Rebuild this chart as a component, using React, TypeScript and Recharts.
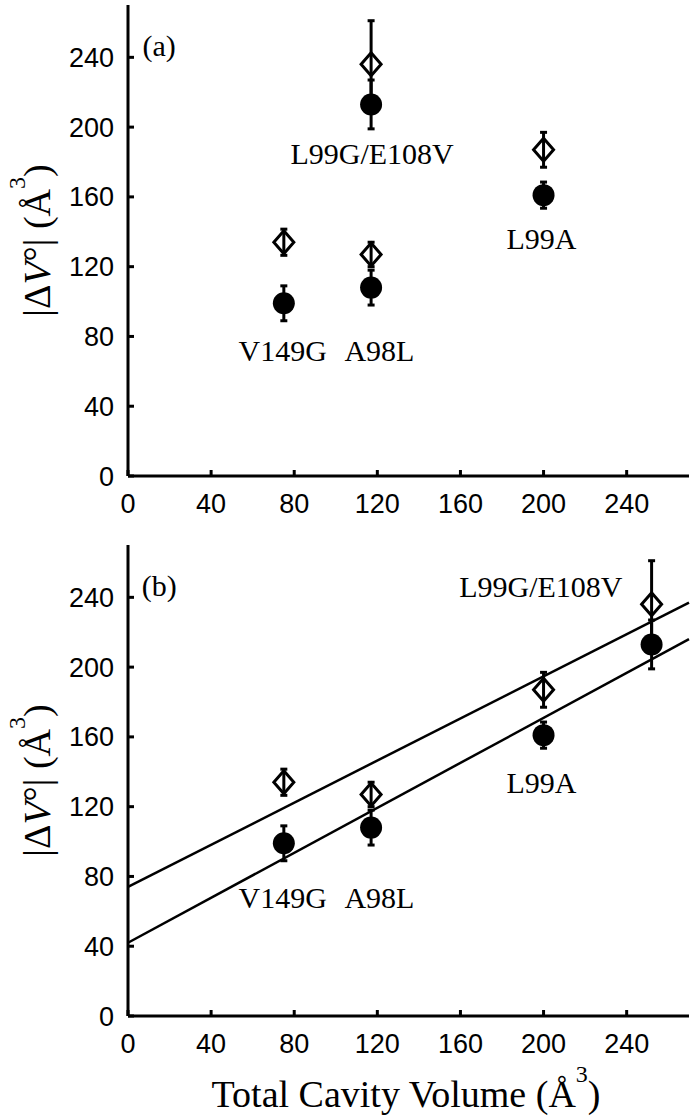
import React from "react";
import { ScatterChart, Scatter, XAxis, YAxis, ErrorBar } from "recharts";

// mutants, in the order used by every array below
const mutants = ["V149G", "A98L", "L99A", "L99G/E108V"];

// x: cavity volume (A^3); panel (a) uses the largest cavity, panel (b) the total
const volumeA = [75, 117, 200, 117];
const volumeB = [75, 117, 200, 252];

// |dV| values, filled circles and open diamonds, with their errors
const closedDV = [99, 108, 161, 213];
const closedErr = [10, 10, 7.5, 14];
const openDV = [134, 127, 187, 236];
const openErr = [7.5, 7, 10, 25];

// linear fits in panel (b), end points
const fitOpenX = [0, 270];
const fitOpenY = [74, 237];
const fitClosedX = [0, 270];
const fitClosedY = [42, 216];

// where the mutant names sit (data coords)
const noteAX = [74.5, 121, 199, 117.5];
const noteAY = [72, 72, 136, 185];
const noteBX = [74.5, 121, 199, 198.7];
const noteBY = [68, 68, 134, 246];

const xTicks = [0, 40, 80, 120, 160, 200, 240];
const yTicks = [0, 40, 80, 120, 160, 200, 240];

const SERIF = "'Liberation Serif', 'Times New Roman', serif";
const SANS = "'Liberation Sans', Arial, sans-serif";
const axisStyle = { stroke: "#000", strokeWidth: 3 };

const Dot = (props: any) => {
  const { cx, cy } = props;
  if (cx == null || cy == null) return <g />;
  return <circle cx={cx} cy={cy} r={11} fill="#000" />;
};

const Diamond = (props: any) => {
  const { cx, cy } = props;
  if (cx == null || cy == null) return <g />;
  return (
    <path
      d={`M${cx},${cy - 11.5} L${cx + 10},${cy} L${cx},${cy + 11.5} L${cx - 10},${cy} Z`}
      fill="none"
      stroke="#000"
      strokeWidth={3}
    />
  );
};

const Note = (props: any) => {
  const { cx, cy } = props;
  const text = props.payload?.text ?? props.text;
  if (cx == null || cy == null) return <g />;
  return (
    <text
      x={cx}
      y={cy}
      textAnchor="middle"
      dominantBaseline="central"
      fontFamily={SERIF}
      fontSize={30}
      fill="#000"
    >
      {text}
    </text>
  );
};

const Nothing = () => <g />;

const YTitle = () => (
  <text
    transform="translate(50,240.5) rotate(-90)"
    textAnchor="middle"
    fontFamily={SERIF}
    fontSize={38}
    fill="#000"
  >
    |Δ<tspan fontStyle="italic">V</tspan>°| (Å
    <tspan dy={-25} fontSize={24}>3</tspan>
    <tspan dy={25}>)</tspan>
  </text>
);

const XTitle = () => (
  <text x={406} y={567} textAnchor="middle" fontFamily={SERIF} fontSize={38} fill="#000">
    Total Cavity Volume (Å
    <tspan dy={-25} fontSize={24}>3</tspan>
    <tspan dy={25}>)</tspan>
  </text>
);

function Panel({
  letter,
  volume,
  noteX,
  noteY,
  height,
  xHeight,
  withFits,
}: any) {
  const closed = mutants.map((m, i) => ({ x: volume[i], y: closedDV[i], err: closedErr[i] }));
  const open = mutants.map((m, i) => ({ x: volume[i], y: openDV[i], err: openErr[i] }));
  const notes = mutants.map((m, i) => ({ x: noteX[i], y: noteY[i], text: m }));
  const tag = [{ x: 15, y: 247, text: letter }];
  const fitOpen = fitOpenX.map((x, i) => ({ x, y: fitOpenY[i] }));
  const fitClosed = fitClosedX.map((x, i) => ({ x, y: fitClosedY[i] }));

  return (
    <ScatterChart
      width={700}
      height={height}
      margin={{ top: 5, right: 11, bottom: 0, left: 0 }}
    >
      <XAxis
        xAxisId="b"
        type="number"
        dataKey="x"
        domain={[0, 270]}
        ticks={xTicks}
        height={xHeight}
        axisLine={axisStyle}
        tickLine={axisStyle}
        tickSize={-6}
        tickMargin={24}
        tick={{ fontSize: 27, fill: "#000", fontFamily: SANS }}
        label={withFits ? <XTitle /> : undefined}
      />
      <XAxis
        xAxisId="t"
        orientation="top"
        type="number"
        dataKey="x"
        domain={[0, 270]}
        ticks={xTicks}
        height={0}
        axisLine={axisStyle}
        tickLine={axisStyle}
        tickSize={-6}
        tick={false}
      />
      <YAxis
        yAxisId="l"
        type="number"
        dataKey="y"
        domain={[0, 270]}
        ticks={yTicks}
        width={128}
        axisLine={axisStyle}
        tickLine={axisStyle}
        tickSize={-6}
        tickMargin={20}
        tick={{ fontSize: 27, fill: "#000", fontFamily: SANS }}
        label={<YTitle />}
      />
      <YAxis
        yAxisId="r"
        orientation="right"
        type="number"
        dataKey="y"
        domain={[0, 270]}
        ticks={yTicks}
        width={0}
        axisLine={axisStyle}
        tickLine={axisStyle}
        tickSize={-6}
        tick={false}
      />
      {withFits && (
        <Scatter
          xAxisId="b"
          yAxisId="l"
          data={fitOpen}
          line={{ stroke: "#000", strokeWidth: 2.5 }}
          shape={Nothing}
          isAnimationActive={false}
        />
      )}
      {withFits && (
        <Scatter
          xAxisId="b"
          yAxisId="l"
          data={fitClosed}
          line={{ stroke: "#000", strokeWidth: 2.5 }}
          shape={Nothing}
          isAnimationActive={false}
        />
      )}
      <Scatter xAxisId="b" yAxisId="l" data={open} shape={Diamond} isAnimationActive={false}>
        <ErrorBar dataKey="err" direction="y" width={3.5} stroke="#000" strokeWidth={3} />
      </Scatter>
      <Scatter xAxisId="b" yAxisId="l" data={closed} shape={Dot} isAnimationActive={false}>
        <ErrorBar dataKey="err" direction="y" width={3.5} stroke="#000" strokeWidth={3} />
      </Scatter>
      <Scatter xAxisId="b" yAxisId="l" data={notes} shape={Note} isAnimationActive={false} />
      <Scatter xAxisId="b" yAxisId="l" data={tag} shape={Note} isAnimationActive={false} />
    </ScatterChart>
  );
}

export default function App() {
  return (
    <div
      style={{
        position: "absolute",
        left: 0,
        top: 0,
        width: 700,
        height: 1120,
        background: "#fff",
      }}
    >
      <Panel
        letter="(a)"
        volume={volumeA}
        noteX={noteAX}
        noteY={noteAY}
        height={540}
        xHeight={64}
        withFits={false}
      />
      <Panel
        letter="(b)"
        volume={volumeB}
        noteX={noteBX}
        noteY={noteBY}
        height={580}
        xHeight={104}
        withFits={true}
      />
    </div>
  );
}
